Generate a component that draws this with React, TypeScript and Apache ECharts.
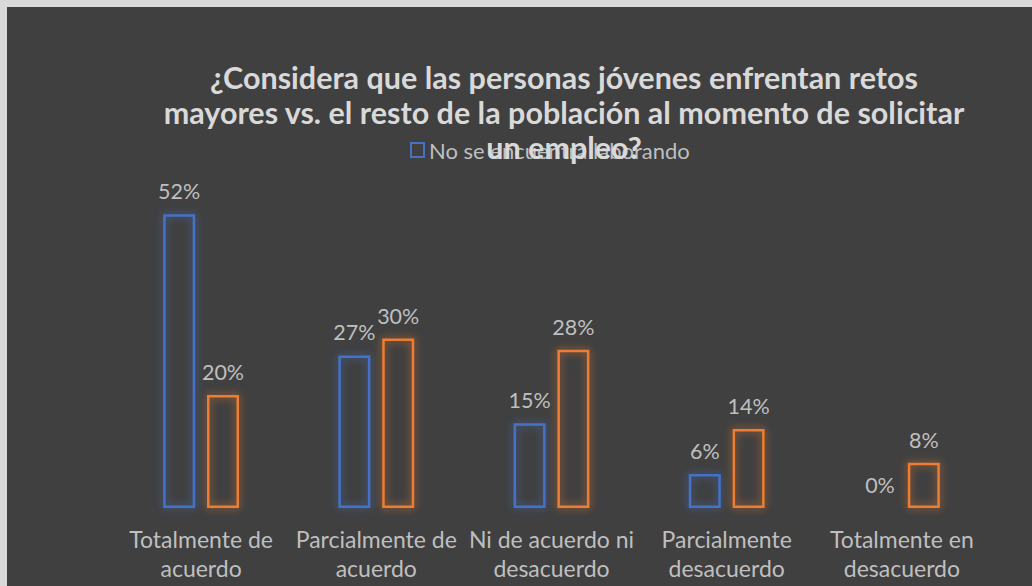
import React, { useEffect, useRef } from "react";
import * as echarts from "echarts";

const categories = [
  "Totalmente de\nacuerdo",
  "Parcialmente de\nacuerdo",
  "Ni de acuerdo ni\ndesacuerdo",
  "Parcialmente\ndesacuerdo",
  "Totalmente en\ndesacuerdo",
];
const noLaborando = [52, 27, 15, 6, 0];
const laborando = [20, 30, 28, 14, 8];
const seriesNames = ["No se encuentra laborando", "Se encuentra laborando"];
const titleText =
  "¿Considera que las personas jóvenes enfrentan retos\nmayores vs. el resto de la población al momento de solicitar\nun empleo?";

const BLUE = "#4472C4";
const ORANGE = "#ED7D31";
const FONT = "Lato";

function toData(values: number[]) {
  return values.map((v) =>
    v === 0 ? { value: v, itemStyle: { borderWidth: 0, shadowBlur: 0 } } : v
  );
}

function makeSeries(name: string, values: number[], color: string, glow: string) {
  return {
    name,
    type: "bar",
    data: toData(values),
    barWidth: 32,
    barGap: "37%",
    itemStyle: {
      color: "rgba(64,64,64,0)",
      borderColor: color,
      borderWidth: 2.5,
      shadowBlur: 9,
      shadowColor: glow,
    },
    label: {
      show: true,
      position: "top",
      distance: 12,
      formatter: "{c}%",
      color: "#bfbfbf",
      fontFamily: FONT,
      fontSize: 21.5,
    },
  };
}

export default function App() {
  const ref = useRef<HTMLDivElement>(null);
  useEffect(() => {
    const html = document.documentElement;
    html.style.margin = "0";
    html.style.background = "#404040";
    html.style.overflow = "hidden";
    document.body.style.margin = "0";
    document.body.style.overflow = "hidden";
    document.body.style.background = "#404040";
    if (!ref.current) return;
    const chart = echarts.init(ref.current, null, { renderer: "svg" });
    chart.setOption({
      animation: false,
      backgroundColor: "#404040",
      title: {
        text: titleText,
        left: 557,
        top: 52,
        padding: 0,
        textAlign: "center",
        textStyle: {
          color: "#d9d9d9",
          fontFamily: FONT,
          fontWeight: "bold",
          fontSize: 30.5,
          lineHeight: 35,
        },
      },
      legend: {
        data: [seriesNames[0]],
        left: 403,
        top: 132,
        padding: 0,
        itemWidth: 13,
        itemHeight: 14,
        itemGap: 6,
        icon: "rect",
        textStyle: { color: "#bfbfbf", fontFamily: FONT, fontSize: 22 },
      },
      grid: { left: 106.5, width: 876, top: 162, bottom: 78 },
      xAxis: {
        type: "category",
        data: categories,
        axisLine: { show: false },
        axisTick: { show: false },
        axisLabel: {
          color: "#bfbfbf",
          fontFamily: FONT,
          fontSize: 23,
          lineHeight: 29,
          margin: 16,
          interval: 0,
        },
      },
      yAxis: {
        type: "value",
        min: 0,
        max: 60,
        show: false,
        splitLine: { show: false },
      },
      series: [
        makeSeries(seriesNames[0], noLaborando, BLUE, "rgba(68,114,196,0.8)"),
        makeSeries(seriesNames[1], laborando, ORANGE, "rgba(237,125,49,0.8)"),
      ],
    });
    return () => chart.dispose();
  }, []);
  return (
    <div
      style={{
        position: "fixed",
        left: 0,
        top: 0,
        width: 1032,
        height: 586,
        background: "#404040",
        borderLeft: "7px solid #d9d9d9",
        borderTop: "7px solid #d9d9d9",
        boxSizing: "border-box",
        overflow: "hidden",
      }}
    >
      <div ref={ref} style={{ position: "absolute", left: 0, top: 0, width: 1025, height: 579 }} />
    </div>
  );
}
